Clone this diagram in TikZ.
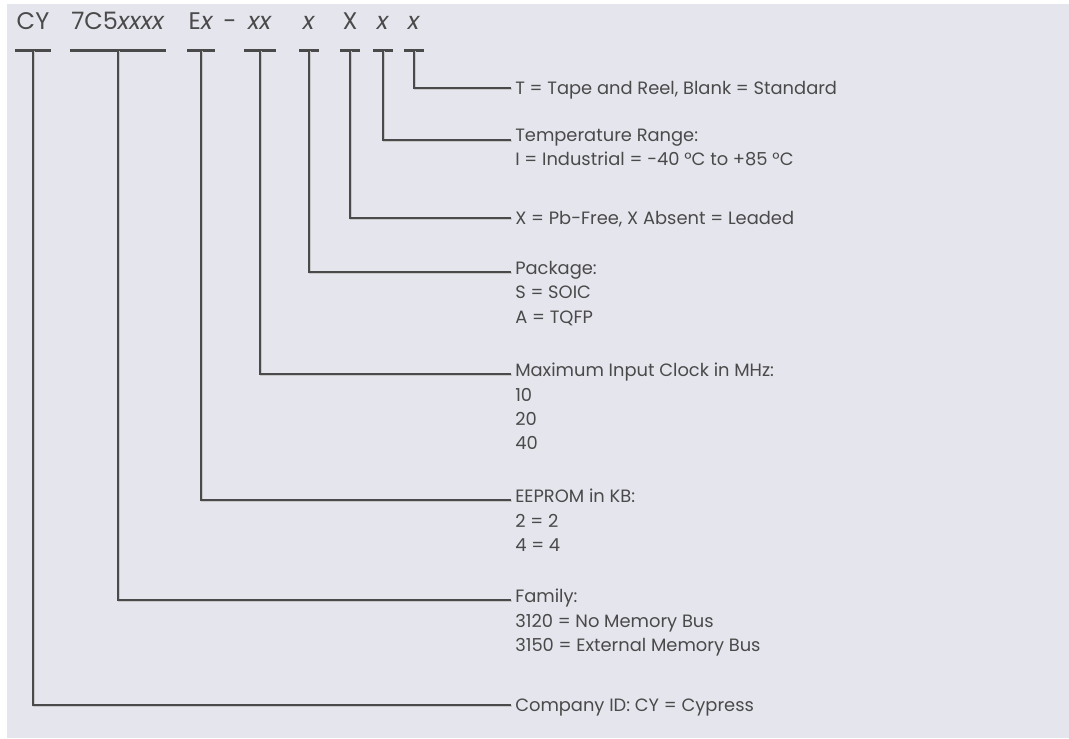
\documentclass[tikz,border=0pt]{standalone}
\usepackage{fontspec}
\setmainfont{Poppins}
\usepackage{tikz}
\definecolor{ink}{HTML}{4A4A4A}
\definecolor{paper}{RGB}{229,229,238}

\begin{document}
\begin{tikzpicture}[x=0.75pt, y=-0.75pt]
\tikzstyle{code} = [anchor=base, inner xsep=1pt, inner ysep=0pt, text depth=15pt,
  minimum width=14pt, text=ink, font=\fontsize{18}{20}\selectfont]
\tikzstyle{bar} = [draw=ink, line width=2.2pt]
\tikzstyle{lead} = [draw=ink, line width=1.4pt,
  preaction={draw=black!22, line width=1.4pt, transform canvas={xshift=0.8pt, yshift=-0.8pt}}]
\tikzstyle{desc} = [anchor=north west, align=left, inner xsep=3pt, inner ysep=0pt, text=ink,
  font=\fontsize{13.4}{18.2}\selectfont, execute at begin node=\strut]

\useasboundingbox (0,0) rectangle (1069,738);
\fill[white] (0,0) rectangle (1069,738);
\fill[paper] (7,4) rectangle (1069,738);

% part number
\node[code] (cy) at (33,30) {CY};
\node[code, minimum width=72pt] (fam) at (118,30) {7C5\textit{xxxx}};
\node[code, minimum width=19.5pt] (eep) at (201,30) {E\textit{x}};
\node[code, minimum width=0pt, text depth=0pt] (dash) at (230,30) {-};
\node[code, minimum width=23pt] (clk) at (260,30) {\textit{xx}};
\node[code] (pkg) at (309,30) {\textit{x}};
\node[code] (pbf) at (350,30) {X};
\node[code] (tmp) at (383,30) {\textit{x}};
\node[code] (tap) at (414,30) {\textit{x}};

\foreach \n in {cy,fam,eep,clk,pkg,pbf,tmp,tap}
  \draw[bar] (\n.south west) -- (\n.south east);

% meanings (top edge 11px above the lead line)
\node[desc] (tapd) at (511,77) {T = Tape and Reel, Blank = Standard};
\node[desc] (tmpd) at (511,129) {Temperature Range:\\
  I = Industrial = -40 °C to +85 °C};
\node[desc] (pbfd) at (511,207) {X = Pb-Free, X Absent = Leaded};
\node[desc] (pkgd) at (511,261) {Package:\\ S = SOIC\\ A = TQFP};
\node[desc] (clkd) at (511,363) {Maximum Input Clock in MHz:\\ 10\\ 20\\ 40};
\node[desc] (eepd) at (511,489) {EEPROM in KB:\\ 2 = 2\\ 4 = 4};
\node[desc] (famd) at (511,589) {Family:\\
  3120 = No Memory Bus\\
  3150 = External Memory Bus};
\node[desc] (cyd) at (511,694) {Company ID: CY = Cypress};

\foreach \a/\b in {tap/tapd, tmp/tmpd, pbf/pbfd, pkg/pkgd, clk/clkd, eep/eepd, fam/famd, cy/cyd}
  \draw[lead] (\a.south) |- ([yshift=-8.25pt]\b.north west);
\end{tikzpicture}
\end{document}
